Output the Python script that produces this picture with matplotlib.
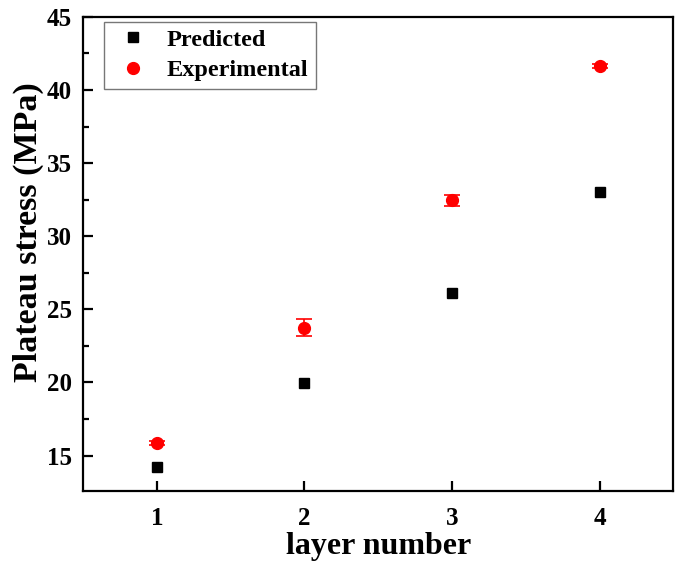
import matplotlib
matplotlib.use("Agg")
import matplotlib.pyplot as plt
from matplotlib.ticker import MultipleLocator

layers = [1, 2, 3, 4]
predicted = [14.25, 19.95, 26.15, 33.0]
experimental = [15.85, 23.75, 32.45, 41.65]
exp_err = [0.15, 0.6, 0.35, 0.15]

plt.rcParams["font.family"] = "Liberation Serif"
plt.rcParams["font.weight"] = "bold"

fig = plt.figure(figsize=(6.76, 5.64), dpi=100)
ax = fig.add_axes([0.123, 0.13, 0.873, 0.84])

ax.plot(layers, predicted, "s", color="black", markersize=7.5, label="Predicted")
ax.errorbar(layers, experimental, yerr=exp_err, fmt="none", ecolor="red",
            capsize=6, elinewidth=1.2, capthick=1.2)
ax.plot(layers, experimental, "o", color="red", markersize=8.5,
        label="Experimental")

ax.set_xlim(0.5, 4.5)
ax.set_ylim(12.6, 45)
ax.set_xticks(layers)
ax.yaxis.set_major_locator(MultipleLocator(5))
ax.yaxis.set_minor_locator(MultipleLocator(2.5))

for s in ax.spines.values():
    s.set_linewidth(1.6)
ax.tick_params(axis="both", which="major", direction="in", length=7,
               width=1.6, labelsize=18)
ax.tick_params(axis="x", which="major", pad=12)
ax.tick_params(axis="y", which="major", pad=8)
ax.tick_params(axis="y", which="minor", direction="in", length=4.3, width=1.6)

ax.set_xlabel("layer number", fontsize=23, fontweight="bold")
ax.set_ylabel("Plateau stress (MPa)", fontsize=24.5, fontweight="bold")
ax.xaxis.set_label_coords(0.5, -0.118)
ax.xaxis.label.set_va("center")
ax.yaxis.set_label_coords(-0.093, 0.545)
ax.yaxis.label.set_va("center")

leg = ax.legend(loc="upper left", bbox_to_anchor=(0.035, 0.99), fontsize=17.5,
                frameon=True, fancybox=False, edgecolor="#555555",
                handletextpad=0.5, borderpad=0.3, labelspacing=0.35,
                handlelength=1.8, borderaxespad=0)
leg.get_frame().set_linewidth(1.0)

fig.savefig("out.png", dpi=100)
